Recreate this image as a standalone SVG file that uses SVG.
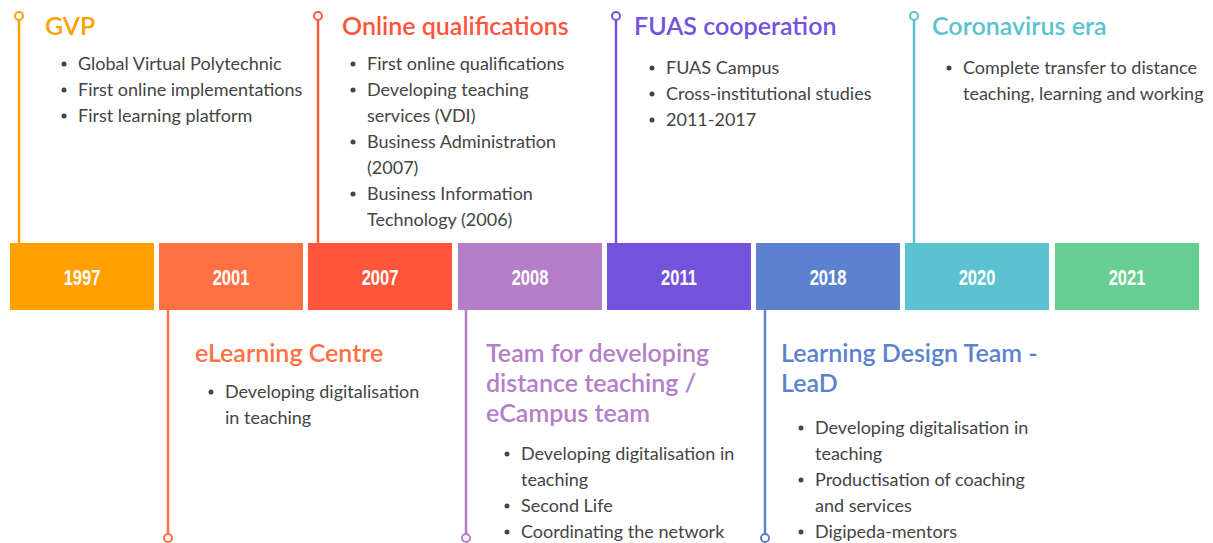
<svg xmlns="http://www.w3.org/2000/svg" width="1213" height="543" viewBox="0 0 1213 543">
<style>
.yr{font-family:"Liberation Sans",Arial,sans-serif;font-weight:bold;font-size:22px;fill:#fff;text-anchor:middle}
.h{font-family:Lato,"Open Sans",sans-serif;font-weight:600;font-size:25px}
.b{font-family:Lato,"Open Sans",sans-serif;font-size:18px;fill:#444}
.dot{fill:#444}
.ln{stroke-width:2.5;fill:none}
.ring{fill:#fff;stroke-width:2}
</style>
<rect width="1213" height="543" fill="#fff"/>
<g id="connectors">
<line class="ln" stroke="#FF9F00" x1="19" y1="20" x2="19" y2="243"/><circle class="ring" stroke="#FF9F00" cx="19" cy="16" r="4"/>
<line class="ln" stroke="#FF7043" x1="168" y1="310" x2="168" y2="534"/><circle class="ring" stroke="#FF7043" cx="168" cy="538" r="4"/>
<line class="ln" stroke="#FF5A3C" x1="318" y1="20" x2="318" y2="243"/><circle class="ring" stroke="#FF5A3C" cx="318" cy="16" r="4"/>
<line class="ln" stroke="#B57EC8" x1="466" y1="310" x2="466" y2="534"/><circle class="ring" stroke="#B57EC8" cx="466" cy="538" r="4"/>
<line class="ln" stroke="#7452DC" x1="616" y1="20" x2="616" y2="243"/><circle class="ring" stroke="#7452DC" cx="616" cy="16" r="4"/>
<line class="ln" stroke="#5C82CF" x1="765" y1="310" x2="765" y2="534"/><circle class="ring" stroke="#5C82CF" cx="765" cy="538" r="4"/>
<line class="ln" stroke="#5BC3CF" x1="914" y1="20" x2="914" y2="243"/><circle class="ring" stroke="#5BC3CF" cx="914" cy="16" r="4"/>
</g>
<g id="y1997"><rect x="10" y="243" width="144" height="67" fill="#FF9F00"/><text class="yr" transform="translate(82 285) scale(0.75 1)">1997</text></g>
<g id="y2001"><rect x="159" y="243" width="144" height="67" fill="#FF7043"/><text class="yr" transform="translate(231 285) scale(0.75 1)">2001</text></g>
<g id="y2007"><rect x="308" y="243" width="144" height="67" fill="#FF553B"/><text class="yr" transform="translate(380 285) scale(0.75 1)">2007</text></g>
<g id="y2008"><rect x="458" y="243" width="144" height="67" fill="#B57EC8"/><text class="yr" transform="translate(530 285) scale(0.75 1)">2008</text></g>
<g id="y2011"><rect x="607" y="243" width="144" height="67" fill="#7452DC"/><text class="yr" transform="translate(679 285) scale(0.75 1)">2011</text></g>
<g id="y2018"><rect x="756" y="243" width="144" height="67" fill="#5C82CF"/><text class="yr" transform="translate(828 285) scale(0.75 1)">2018</text></g>
<g id="y2020"><rect x="905" y="243" width="144" height="67" fill="#5BC3CF"/><text class="yr" transform="translate(977 285) scale(0.75 1)">2020</text></g>
<g id="y2021"><rect x="1055" y="243" width="144" height="67" fill="#66CE92"/><text class="yr" transform="translate(1127 285) scale(0.75 1)">2021</text></g>

<g id="gvp">
<text class="h" x="45" y="35" fill="#FF9F00">GVP</text>
<circle class="dot" cx="64" cy="64" r="2.5"/><text class="b" x="78" y="70">Global Virtual Polytechnic</text>
<circle class="dot" cx="64" cy="90" r="2.5"/><text class="b" x="78" y="96">First online implementations</text>
<circle class="dot" cx="64" cy="116" r="2.5"/><text class="b" x="78" y="122">First learning platform</text>
</g>
<g id="elearning">
<text class="h" x="195" y="362" fill="#FF7043">eLearning Centre</text>
<circle class="dot" cx="211" cy="392" r="2.5"/><text class="b" x="225" y="398">Developing digitalisation</text>
<text class="b" x="225" y="424">in teaching</text>
</g>
<g id="online">
<text class="h" x="342" y="35" fill="#FF553B">Online qualifications</text>
<circle class="dot" cx="353" cy="64" r="2.5"/><text class="b" x="367" y="70">First online qualifications</text>
<circle class="dot" cx="353" cy="90" r="2.5"/><text class="b" x="367" y="96">Developing teaching</text>
<text class="b" x="367" y="122">services (VDI)</text>
<circle class="dot" cx="353" cy="142" r="2.5"/><text class="b" x="367" y="148">Business Administration</text>
<text class="b" x="367" y="174">(2007)</text>
<circle class="dot" cx="353" cy="194" r="2.5"/><text class="b" x="367" y="200">Business Information</text>
<text class="b" x="367" y="226">Technology (2006)</text>
</g>
<g id="team">
<text class="h" x="486" y="362" fill="#B57EC8">Team for developing</text>
<text class="h" x="486" y="392" fill="#B57EC8">distance teaching /</text>
<text class="h" x="486" y="422" fill="#B57EC8">eCampus team</text>
<circle class="dot" cx="507" cy="454" r="2.5"/><text class="b" x="521" y="460">Developing digitalisation in</text>
<text class="b" x="521" y="486">teaching</text>
<circle class="dot" cx="507" cy="506" r="2.5"/><text class="b" x="521" y="512">Second Life</text>
<circle class="dot" cx="507" cy="532" r="2.5"/><text class="b" x="521" y="538">Coordinating the network</text>
</g>
<g id="fuas">
<text class="h" x="634" y="35" fill="#7452DC">FUAS cooperation</text>
<circle class="dot" cx="652" cy="68" r="2.5"/><text class="b" x="666" y="74">FUAS Campus</text>
<circle class="dot" cx="652" cy="94" r="2.5"/><text class="b" x="666" y="100">Cross-institutional studies</text>
<circle class="dot" cx="652" cy="120" r="2.5"/><text class="b" x="666" y="126">2011-2017</text>
</g>
<g id="lead">
<text class="h" x="781" y="362" fill="#5C82CF">Learning Design Team -</text>
<text class="h" x="781" y="392" fill="#5C82CF">LeaD</text>
<circle class="dot" cx="801" cy="428" r="2.5"/><text class="b" x="815" y="434">Developing digitalisation in</text>
<text class="b" x="815" y="460">teaching</text>
<circle class="dot" cx="801" cy="480" r="2.5"/><text class="b" x="815" y="486">Productisation of coaching</text>
<text class="b" x="815" y="512">and services</text>
<circle class="dot" cx="801" cy="532" r="2.5"/><text class="b" x="815" y="538">Digipeda-mentors</text>
</g>
<g id="corona">
<text class="h" x="932" y="35" fill="#5BC3CF">Coronavirus era</text>
<circle class="dot" cx="949" cy="68" r="2.5"/><text class="b" x="963" y="74">Complete transfer to distance</text>
<text class="b" x="963" y="100">teaching, learning and working</text>
</g>
</svg>
